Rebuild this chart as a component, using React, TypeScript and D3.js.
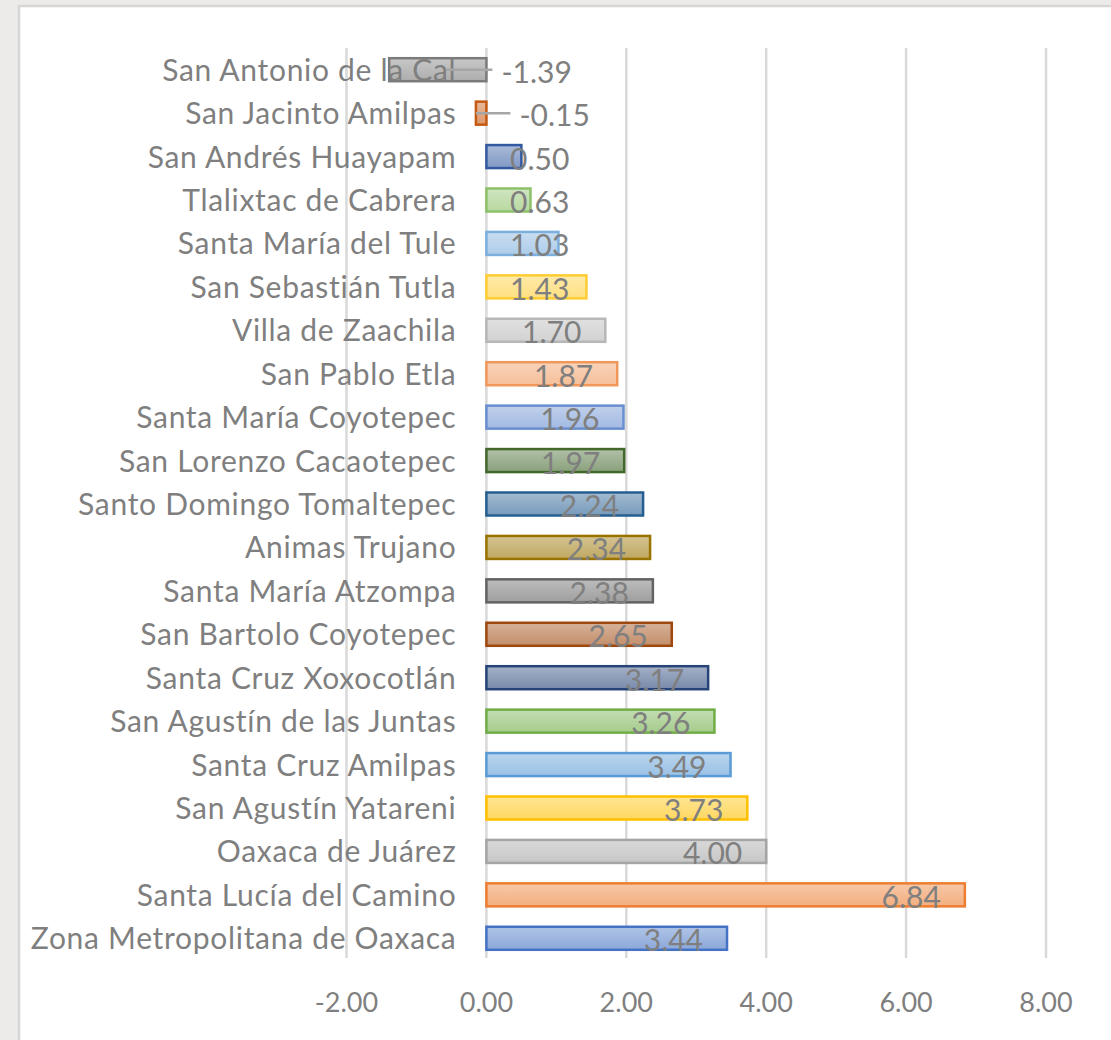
import React from 'react';
import * as d3 from 'd3';

// municipalities, top to bottom as displayed
const names = [
  'San Antonio de la Cal',
  'San Jacinto Amilpas',
  'San Andrés Huayapam',
  'Tlalixtac de Cabrera',
  'Santa María del Tule',
  'San Sebastián Tutla',
  'Villa de Zaachila',
  'San Pablo Etla',
  'Santa María Coyotepec',
  'San Lorenzo Cacaotepec',
  'Santo Domingo Tomaltepec',
  'Animas Trujano',
  'Santa María Atzompa',
  'San Bartolo Coyotepec',
  'Santa Cruz Xoxocotlán',
  'San Agustín de las Juntas',
  'Santa Cruz Amilpas',
  'San Agustín Yatareni',
  'Oaxaca de Juárez',
  'Santa Lucía del Camino',
  'Zona Metropolitana de Oaxaca',
];

const values = [
  -1.39, -0.15, 0.5, 0.63, 1.03, 1.43, 1.7, 1.87, 1.96, 1.97, 2.24, 2.34, 2.38,
  2.65, 3.17, 3.26, 3.49, 3.73, 4.0, 6.84, 3.44,
];

const barColors = [
  '#7B7B7B', '#C65911', '#335AA1', '#8CC168', '#7CAFDD', '#FFCD33', '#B7B7B7',
  '#F1975A', '#698ED0', '#43682B', '#255E91', '#997300', '#636363', '#9E480E',
  '#264478', '#70AD47', '#5B9BD5', '#FFC000', '#A5A5A5', '#ED7D31', '#4472C4',
];

const xTicks = [-2, 0, 2, 4, 6, 8];

const W = 1111;
const H = 1040;
const font = 'Lato, "Noto Sans", sans-serif';
const grey = '#7f7f7f';
const fmt = (v: number) => d3.format('.2f')(v).replace('\u2212', '-');

const App = () => {
  const x = d3.scaleLinear().domain([-2, 8]).range([346.5, 1046]);
  const y = d3.scaleBand().domain(names).range([48, 960]).paddingInner(0.47).paddingOuter(0.235);
  const bh = y.bandwidth();
  const x0 = x(0);

  const tint = (c: string, k: number) => d3.interpolateRgb(c, '#ffffff')(k);

  return (
    <div style={{ position: 'absolute', left: 0, top: 0 }}>
      <svg width={W} height={H} style={{ display: 'block', fontFamily: font }}>
        <defs>
          {barColors.map((c, i) => (
            <linearGradient key={i} id={`g${i}`} x1="0" y1="0" x2="0" y2="1">
              <stop offset="0" stopColor={tint(c, 0.58)} />
              <stop offset="1" stopColor={tint(c, 0.38)} />
            </linearGradient>
          ))}
        </defs>
        <rect width={W} height={H} fill="#ecebe9" />
        <rect x={19} y={6} width={W} height={H} fill="#fff" stroke="#d6d6d6" strokeWidth={2.5} />

        {/* gridlines */}
        {xTicks.map((t) => (
          <line key={t} x1={x(t)} x2={x(t)} y1={48} y2={958} stroke="#d9d9d9" strokeWidth={2.5} />
        ))}
        {xTicks.map((t) => (
          <text
            key={t}
            x={x(t)}
            y={1001}
            textAnchor="middle"
            dominantBaseline="central"
            fontSize={27}
            fill={grey}
          >
            {fmt(t)}
          </text>
        ))}

        {/* bars */}
        {names.map((n, i) => {
          const v = values[i];
          const x1 = Math.min(x(v), x0);
          const w = Math.abs(x(v) - x0);
          return (
            <rect
              key={n}
              x={x1}
              y={y(n)}
              width={w}
              height={bh}
              fill={`url(#g${i})`}
              stroke={barColors[i]}
              strokeWidth={2.5}
            />
          );
        })}

        {/* category labels */}
        {names.map((n) => (
          <text
            key={n}
            x={x0 - 30}
            y={(y(n) as number) + bh / 2 - 1}
            textAnchor="end"
            dominantBaseline="central"
            fontSize={30}
            letterSpacing={0.7}
            fill={grey}
          >
            {n}
          </text>
        ))}

        {/* data labels */}
        {names.map((n, i) => {
          const v = values[i];
          const cy = (y(n) as number) + bh / 2 + 1;
          const label = fmt(v);
          if (v < 0) {
            const lx = x0 + 15 + (v > -0.5 ? 18 : 0);
            return (
              <g key={n}>
                <line
                  x1={Math.max(x(v), x0 - 40)}
                  x2={lx - 9}
                  y1={cy - 1}
                  y2={cy - 1}
                  stroke="#a6a6a6"
                  strokeWidth={2.5}
                />
                <text x={lx} y={cy} dominantBaseline="central" fontSize={30} fill={grey}>
                  {label}
                </text>
              </g>
            );
          }
          const right = Math.max(x(v) - 24, x0 + 83);
          return (
            <text
              key={n}
              x={right}
              y={cy}
              textAnchor="end"
              dominantBaseline="central"
              fontSize={30}
              fill={grey}
            >
              {label}
            </text>
          );
        })}
      </svg>
    </div>
  );
};

export default App;
